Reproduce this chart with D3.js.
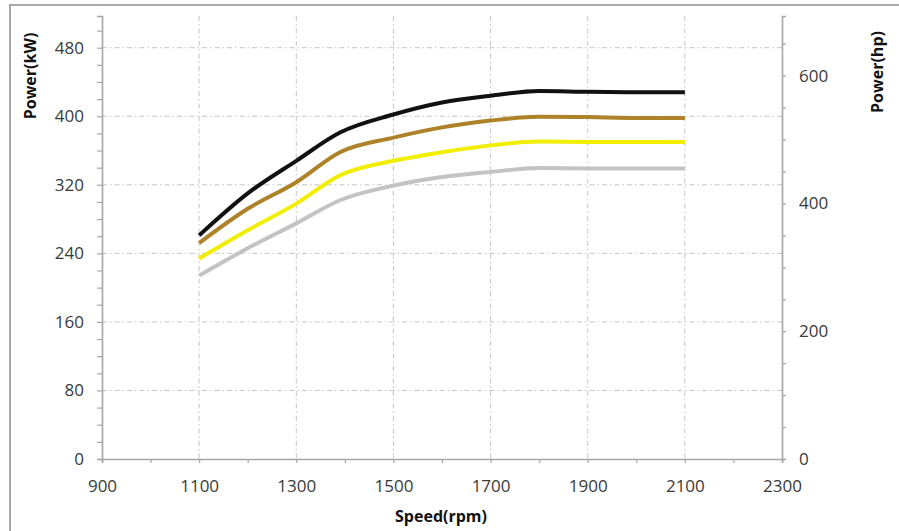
<!DOCTYPE html>
<html>
<head>
<meta charset="utf-8">
<script src="https://cdn.jsdelivr.net/npm/d3@7"></script>
<style>
  html, body { margin: 0; padding: 0; background: #fff; }
  svg { display: block; }
</style>
</head>
<body>
<svg id="chart" width="899" height="531"></svg>
<script>
// ---- data ----
const speeds = [1100, 1200, 1300, 1390, 1500, 1600, 1700, 1800, 1900, 2000, 2100];
const powerBlack  = [261, 310, 348, 381, 402, 416, 424, 429.5, 428.5, 428, 428];
const powerBrown  = [252, 292, 323, 358, 375, 387, 395, 399.5, 399, 398, 398];
const powerYellow = [234, 267, 298, 331, 348, 358, 366, 370.5, 370, 370, 370];
const powerGray   = [214, 246, 275, 302, 319, 329, 335, 339.5, 339, 339, 339];
const xTicks = [900, 1100, 1300, 1500, 1700, 1900, 2100, 2300];
const kwTicks = [0, 80, 160, 240, 320, 400, 480];
const hpTicks = [0, 200, 400, 600];
const KW_TO_HP = 1.341;

const series = [
  { values: powerGray,   color: "#c3c3c3" },
  { values: powerYellow, color: "#f2ee00" },
  { values: powerBrown,  color: "#ad8228" },
  { values: powerBlack,  color: "#111111" }
];

// ---- layout ----
const svg = d3.select("#chart");
const pL = 102, pR = 782, pT = 16, pB = 459;
const kwMax = 517;

const x = d3.scaleLinear().domain([900, 2300]).range([pL, pR]);
const y = d3.scaleLinear().domain([0, kwMax]).range([pB, pT]);
const yHp = d3.scaleLinear().domain([0, kwMax * KW_TO_HP]).range([pB, pT]);

// outer border
svg.append("rect").attr("x", 10).attr("y", 5).attr("width", 900).attr("height", 540)
  .attr("fill", "none").attr("stroke", "#a8a8a8").attr("stroke-width", 2);

const font = "'Open Sans', 'Liberation Sans', sans-serif";
const gridColor = "#c4c4c4";
const axisColor = "#a6a6a6";

// grid lines
const gGrid = svg.append("g");
gGrid.selectAll("line.h").data(kwTicks.filter(d => d > 0)).join("line")
  .attr("class", "h")
  .attr("x1", pL).attr("x2", pR)
  .attr("y1", d => y(d)).attr("y2", d => y(d))
  .attr("stroke", gridColor).attr("stroke-width", 1)
  .attr("stroke-dasharray", "5,3,1.5,3");
gGrid.selectAll("line.v").data(xTicks.filter(d => d > 900 && d < 2300)).join("line")
  .attr("class", "v")
  .attr("x1", d => x(d)).attr("x2", d => x(d))
  .attr("y1", pT).attr("y2", pB)
  .attr("stroke", gridColor).attr("stroke-width", 1)
  .attr("stroke-dasharray", "5,3,1.5,3");

// axes
const xAxis = d3.axisBottom(x).tickValues(d3.range(900, 2301, 100))
  .tickSize(4).tickFormat(d => xTicks.includes(d) ? d : "");
const gx = svg.append("g").attr("transform", `translate(0,${pB})`).call(xAxis);

const yAxis = d3.axisLeft(y).tickValues(d3.range(0, kwMax, 20))
  .tickSize(5).tickFormat(d => kwTicks.includes(d) ? d : "");
const gy = svg.append("g").attr("transform", `translate(${pL},0)`).call(yAxis);

const yAxisR = d3.axisRight(yHp).tickValues(d3.range(0, kwMax * KW_TO_HP, 50))
  .tickSize(4).tickFormat(d => hpTicks.includes(d) ? d : "");
const gyr = svg.append("g").attr("transform", `translate(${pR},0)`).call(yAxisR);

[gx, gy, gyr].forEach(g => {
  g.select(".domain").attr("stroke", axisColor).attr("stroke-width", 1.6);
  g.selectAll(".tick line").attr("stroke", axisColor).attr("stroke-width", 1.2);
  g.selectAll(".tick text").attr("fill", "#3a3a3a")
    .style("font-family", font).style("font-size", "17px");
});
gx.selectAll(".tick text").attr("dy", "0.71em").attr("y", 21);
gy.selectAll(".tick text").attr("x", -18);
gyr.selectAll(".tick text").attr("x", 17);

// lines
const line = d3.line()
  .x((d, i) => x(speeds[i]))
  .y(d => y(d))
  .curve(d3.curveMonotoneX);

svg.append("g").selectAll("path").data(series).join("path")
  .attr("d", s => line(s.values))
  .attr("fill", "none")
  .attr("stroke", s => s.color)
  .attr("stroke-width", 4)
  .attr("stroke-linejoin", "round");

// axis titles
const titleStyle = sel => sel.attr("text-anchor", "middle").style("font-family", font)
  .style("font-size", "16px").style("font-weight", "bold").attr("fill", "#111");
svg.append("text").attr("transform", "translate(36,76) rotate(-90)")
  .call(titleStyle).text("Power(kW)");
svg.append("text").attr("transform", "translate(883,72) rotate(-90)")
  .call(titleStyle).text("Power(hp)");
svg.append("text").attr("x", 441).attr("y", 522)
  .call(titleStyle).text("Speed(rpm)");
</script>
</body>
</html>
